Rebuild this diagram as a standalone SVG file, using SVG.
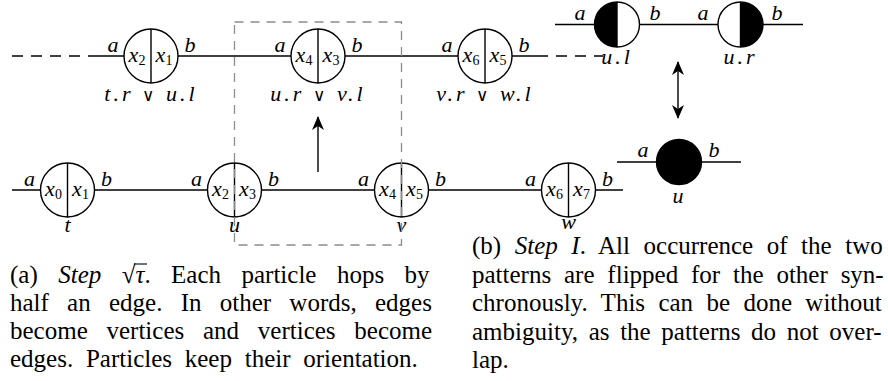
<svg xmlns="http://www.w3.org/2000/svg" width="888" height="381" viewBox="0 0 888 381">
<style>
.ln{stroke:#000;stroke-width:1.4;fill:none}
.dash{stroke:#000;stroke-width:1.4;stroke-dasharray:11 8;fill:none}
.box{stroke:#8c8c8c;stroke-width:1.3;stroke-dasharray:9 7;fill:none}
.nd{stroke:#000;stroke-width:1.4;fill:#fff}
.div{stroke:#000;stroke-width:1.4}
.m{font-family:'Liberation Serif','Times New Roman',Times,'DejaVu Serif',serif;font-style:italic;font-size:22px;text-anchor:middle}
.sub{font-style:normal;font-size:14px}
.op{font-style:normal;font-family:'DejaVu Serif',serif;font-size:17px}
.cap{font-family:'Liberation Serif','Times New Roman',Times,'DejaVu Serif',serif;font-size:25px}
.it{font-style:italic}
</style>
<defs>
<marker id="ah" viewBox="0 0 14 12" refX="13" refY="6" markerWidth="14" markerHeight="12" markerUnits="userSpaceOnUse" orient="auto-start-reverse">
<path d="M14,6 L0,0 L4,6 L0,12 Z" fill="#000"/>
</marker>
</defs>

<g id="connectors">
<line class="dash" x1="12" y1="56" x2="98" y2="56"/>
<line class="ln" x1="98" y1="56" x2="537" y2="56"/>
<line class="dash" x1="537" y1="56" x2="603" y2="56"/>
<line class="ln" x1="12" y1="190" x2="623" y2="190"/>
<line class="ln" x1="555" y1="24.5" x2="803" y2="24.5"/>
<line class="ln" x1="617" y1="162" x2="741" y2="162"/>
<line class="ln" x1="318" y1="172" x2="318" y2="117" marker-end="url(#ah)"/>
<line class="ln" x1="678" y1="118" x2="678" y2="62" marker-start="url(#ah)" marker-end="url(#ah)"/>
</g>

<g id="top1">
<circle class="nd" cx="151" cy="56" r="27"/><line class="div" x1="151" y1="29" x2="151" y2="83"/>
<text class="m" x="113" y="52">a</text><text class="m" x="190" y="52">b</text>
<text class="m" x="137" y="62">x<tspan class="sub" dy="3">2</tspan></text>
<text class="m" x="164" y="62">x<tspan class="sub" dy="3">1</tspan></text>
<text class="m" x="151" y="101" letter-spacing="3">t.r <tspan class="op">∨</tspan> u.l</text>
</g>
<g id="top2">
<circle class="nd" cx="318" cy="56" r="27"/><line class="div" x1="318" y1="29" x2="318" y2="83"/>
<text class="m" x="280" y="52">a</text><text class="m" x="357" y="52">b</text>
<text class="m" x="304" y="62">x<tspan class="sub" dy="3">4</tspan></text>
<text class="m" x="331" y="62">x<tspan class="sub" dy="3">3</tspan></text>
<text class="m" x="318" y="101" letter-spacing="3">u.r <tspan class="op">∨</tspan> v.l</text>
</g>
<g id="top3">
<circle class="nd" cx="485" cy="56" r="27"/><line class="div" x1="485" y1="29" x2="485" y2="83"/>
<text class="m" x="447" y="52">a</text><text class="m" x="524" y="52">b</text>
<text class="m" x="471" y="62">x<tspan class="sub" dy="3">6</tspan></text>
<text class="m" x="498" y="62">x<tspan class="sub" dy="3">5</tspan></text>
<text class="m" x="485" y="101" letter-spacing="3">v.r <tspan class="op">∨</tspan> w.l</text>
</g>

<g id="t">
<circle class="nd" cx="67.5" cy="190" r="27"/><line class="div" x1="67.5" y1="163" x2="67.5" y2="217"/>
<text class="m" x="29.5" y="186">a</text><text class="m" x="106.5" y="186">b</text>
<text class="m" x="53.5" y="196">x<tspan class="sub" dy="3">0</tspan></text>
<text class="m" x="80.5" y="196">x<tspan class="sub" dy="3">1</tspan></text>
<text class="m" x="67.5" y="232">t</text>
</g>
<g id="u">
<circle class="nd" cx="234.5" cy="190" r="27"/><line class="div" x1="234.5" y1="163" x2="234.5" y2="217"/>
<text class="m" x="196.5" y="186">a</text><text class="m" x="273.5" y="186">b</text>
<text class="m" x="220.5" y="196">x<tspan class="sub" dy="3">2</tspan></text>
<text class="m" x="247.5" y="196">x<tspan class="sub" dy="3">3</tspan></text>
<text class="m" x="234.5" y="232">u</text>
</g>
<g id="v">
<circle class="nd" cx="401.5" cy="190" r="27"/><line class="div" x1="401.5" y1="163" x2="401.5" y2="217"/>
<text class="m" x="363.5" y="186">a</text><text class="m" x="440.5" y="186">b</text>
<text class="m" x="387.5" y="196">x<tspan class="sub" dy="3">4</tspan></text>
<text class="m" x="414.5" y="196">x<tspan class="sub" dy="3">5</tspan></text>
<text class="m" x="401.5" y="232">v</text>
</g>
<g id="w">
<circle class="nd" cx="568.5" cy="190" r="27"/><line class="div" x1="568.5" y1="163" x2="568.5" y2="217"/>
<text class="m" x="530.5" y="186">a</text><text class="m" x="607.5" y="186">b</text>
<text class="m" x="554.5" y="196">x<tspan class="sub" dy="3">6</tspan></text>
<text class="m" x="581.5" y="196">x<tspan class="sub" dy="3">7</tspan></text>
<text class="m" x="568.5" y="229">w</text>
</g>

<rect id="window" class="box" x="234.5" y="22" width="167" height="223"/>

<g id="ul">
<circle class="nd" cx="617" cy="24.5" r="22.5"/>
<path d="M617,2 A22.5,22.5 0 0 0 617,47 Z" fill="#000"/>
<line class="div" x1="617" y1="2" x2="617" y2="47"/>
<text class="m" x="580" y="19.5">a</text><text class="m" x="655" y="19.5">b</text>
<text class="m" x="617" y="63.5" letter-spacing="3">u.l</text>
</g>
<g id="ur">
<circle class="nd" cx="740.5" cy="24.5" r="22.5"/>
<path d="M740.5,2 A22.5,22.5 0 0 1 740.5,47 Z" fill="#000"/>
<line class="div" x1="740.5" y1="2" x2="740.5" y2="47"/>
<text class="m" x="703" y="19.5">a</text><text class="m" x="777" y="19.5">b</text>
<text class="m" x="740.5" y="63.5" letter-spacing="3">u.r</text>
</g>
<g id="uu">
<circle cx="679" cy="162" r="22.5" fill="#000" stroke="#000" stroke-width="1.4"/>
<text class="m" x="643" y="157">a</text><text class="m" x="714" y="157">b</text>
<text class="m" x="678" y="203">u</text>
</g>

<g id="caption-a" class="cap">
<text x="10" y="283" word-spacing="14.2">(a) <tspan class="it">Step</tspan> √<tspan class="it">τ</tspan>. Each particle hops by</text>
<line x1="134" y1="264" x2="147" y2="264" stroke="#000" stroke-width="1.1"/>
<text x="10" y="311" word-spacing="12">half an edge. In other words, edges</text>
<text x="10" y="339" word-spacing="12.5">become vertices and vertices become</text>
<text x="10" y="367" word-spacing="6.5">edges. Particles keep their orientation.</text>
</g>

<g id="caption-b" class="cap">
<text x="472" y="254" word-spacing="7.3">(b) <tspan class="it">Step I</tspan>. All occurrence of the two</text>
<text x="472" y="282.5" word-spacing="6.6">patterns are flipped for the other syn-</text>
<text x="472" y="311" word-spacing="7.1">chronously. This can be done without</text>
<text x="472" y="339.5" word-spacing="4.4">ambiguity, as the patterns do not over-</text>
<text x="472" y="368">lap.</text>
</g>
</svg>
